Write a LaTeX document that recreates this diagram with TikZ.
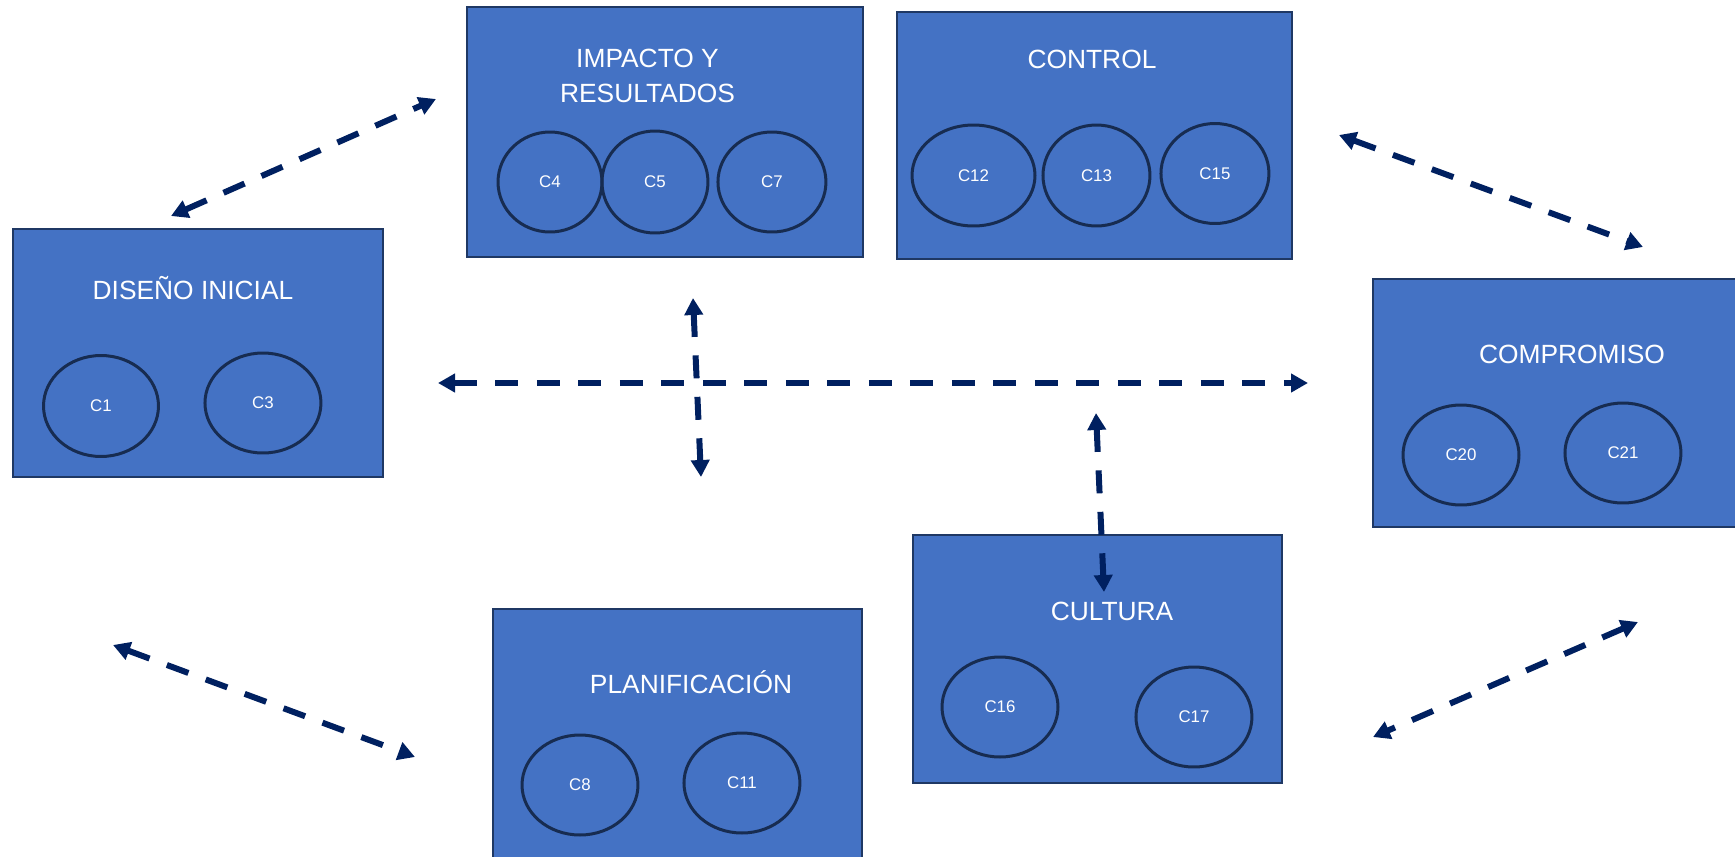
\documentclass[tikz,border=0pt]{standalone}
\usepackage{fontspec}
\setmainfont{Liberation Sans}
\usepackage{tikz}
\usetikzlibrary{arrows.meta,positioning,shapes.geometric}
\definecolor{boxbg}{HTML}{4472C4}
\definecolor{boxln}{HTML}{1F3864}
\definecolor{ringln}{HTML}{172C51}
\definecolor{navy}{HTML}{002060}

\begin{document}
\begin{tikzpicture}[x=0.02cm,y=-0.02cm,
    area/.style={draw=boxln,line width=0.05cm,fill=boxbg,minimum height=4.96cm,inner sep=0pt},
    comp/.style={ellipse,draw=ringln,line width=0.06cm,minimum width=2.32cm,minimum height=2cm,
      inner sep=0pt,outer sep=0pt,text=white,font=\fontsize{9.6}{11}\selectfont},
    ttl/.style={text=white,font=\fontsize{15}{20.4}\selectfont,inner sep=0pt,anchor=base},
    rel/.style={draw=navy,line width=0.12cm,dash pattern=on 0.46cm off 0.37cm,
      {Triangle[length=0.34cm,width=0.36cm]}-{Triangle[length=0.34cm,width=0.36cm]}}]
  \useasboundingbox (0,0) rectangle (1735,856);
  \clip (0,0) rectangle (1735,856);
  % boxes
  \node[area,minimum width=7.4cm] (dis) at (198,353) {};
  \node[area,minimum width=7.92cm,minimum height=5cm] (imp) at (665,132) {};
  \node[area,minimum width=7.9cm,minimum height=4.94cm] (con) at (1094.5,135.5) {};
  \node[area,minimum width=7.34cm] (com) at (1556.5,403) {};
  \node[area,minimum width=7.38cm] (cul) at (1097.5,659) {};
  \node[area,minimum width=7.38cm,minimum height=5.1cm] (pla) at (677.5,736.5) {};
  % titles
  \node[ttl] (tdis) at (193,299) {DISEÑO INICIAL};
  \node[ttl,anchor=center,align=center] (timp) at (647.5,76) {IMPACTO Y\\RESULTADOS};
  \node[ttl] (tcon) at (1092,68) {CONTROL};
  \node[ttl] (tcom) at (1572,363) {COMPROMISO};
  \node[ttl] (tcul) at (1112,620) {CULTURA};
  \node[ttl] (tpla) at (691,693) {PLANIFICACIÓN};
  % components
  \node[comp,minimum width=2.3cm,minimum height=2.02cm] (c1) at (101,406) {C1};
  \node[comp,right=0.93cm of c1,yshift=0.06cm] (c3) {C3};
  \node[comp,minimum width=2.08cm] (c4) at (550,182) {C4};
  \node[comp,minimum width=2.12cm,minimum height=2.04cm,right=0cm of c4] (c5) {C5};
  \node[comp,minimum width=2.16cm,right=0.2cm of c5] (c7) {C7};
  \node[comp,minimum width=2.46cm,minimum height=2.02cm] (c12) at (973.5,175.5) {C12};
  \node[comp,minimum width=2.14cm,minimum height=2.02cm,right=0.16cm of c12] (c13) {C13};
  \node[comp,minimum width=2.16cm,right=0.22cm of c13,yshift=0.04cm] (c15) {C15};
  \node[comp] (c8) at (580,785) {C8};
  \node[comp,right=0.92cm of c8,yshift=0.04cm] (c11) {C11};
  \node[comp] (c16) at (1000,707) {C16};
  \node[comp,right=1.56cm of c16,yshift=-0.2cm] (c17) {C17};
  \node[comp] (c20) at (1461,455) {C20};
  \node[comp,right=0.92cm of c20,yshift=0.04cm] (c21) {C21};
  % links
  \coordinate (a1) at (171,216);   \coordinate (b1) at (436,99);
  \coordinate (a2) at (1339,135);  \coordinate (b2) at (1643,247);
  \coordinate (a3) at (438,383);   \coordinate (b3) at (1308,383);
  \coordinate (a4) at (693,298);   \coordinate (b4) at (701,477);
  \coordinate (a5) at (1096,413);  \coordinate (b5) at (1104,592);
  \coordinate (a6) at (1638,622);  \coordinate (b6) at (1373,737);
  \coordinate (a7) at (113,645);   \coordinate (b7) at (415,757);
  \foreach \a/\b in {a1/b1,a2/b2,a3/b3,a4/b4,a5/b5,a6/b6,a7/b7} \draw[rel] (\a) -- (\b);
\end{tikzpicture}
\end{document}
